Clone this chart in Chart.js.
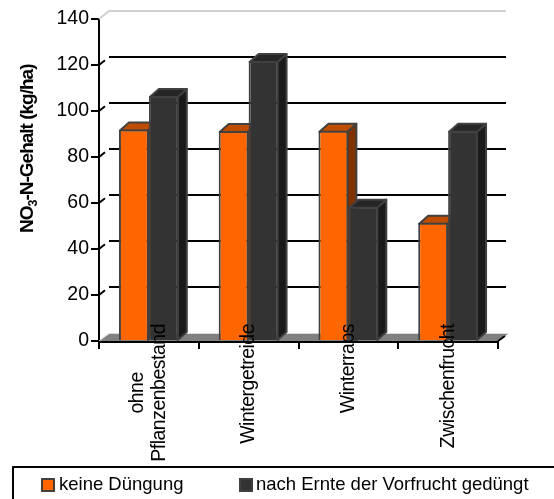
<!DOCTYPE html>
<html>
<head>
<meta charset="utf-8">
<script src="https://cdn.jsdelivr.net/npm/chart.js@4/dist/chart.umd.min.js"></script>
<style>
html, body { margin: 0; padding: 0; background: #fff; }
canvas { display: block; }
</style>
</head>
<body>
<canvas id="nitrateChart" width="554" height="499"></canvas>
<script>
const categories = [["ohne", "Pflanzenbestand"], ["Wintergetreide"], ["Winterraps"], ["Zwischenfrucht"]];
const keineDuengung = [92, 91.3, 91.4, 51.4];
const nachErnte = [106.5, 121.7, 58.4, 91.4];
const seriesNames = ["keine Düngung", "nach Ernte der Vorfrucht gedüngt"];
const yTicks = [0, 20, 40, 60, 80, 100, 120, 140];

const FONT = '"Liberation Sans", Arial, sans-serif';
const WALL_X = 10;
const WALL_Y = 8;
const BAR_X = 9;
const BAR_Y = 8;
const barShades = [
    { top: '#bf4d00', side: '#803300' },
    { top: '#262626', side: '#1a1a1a' }
];

// back wall, floor and the slanted bit of every gridline
function drawWalls(chart) {
    const { ctx, chartArea: a, scales: { y } } = chart;
    ctx.save();
    ctx.fillStyle = '#808080';
    ctx.beginPath();
    ctx.moveTo(a.left, a.bottom);
    ctx.lineTo(a.left + WALL_X, a.bottom - WALL_Y + 1);
    ctx.lineTo(a.right + WALL_X, a.bottom - WALL_Y + 1);
    ctx.lineTo(a.right, a.bottom);
    ctx.closePath();
    ctx.fill();
    ctx.strokeStyle = '#d9d9d9';
    ctx.lineWidth = 1;
    ctx.beginPath();
    ctx.moveTo(a.left, a.bottom);
    ctx.lineTo(a.left + WALL_X, a.bottom - WALL_Y + 0.5);
    ctx.lineTo(a.right + WALL_X, a.bottom - WALL_Y + 0.5);
    ctx.stroke();

    yTicks.forEach(v => {
        if (v === 0) return;
        const py = y.getPixelForValue(v);
        const top = v === yTicks[yTicks.length - 1];
        ctx.strokeStyle = top ? '#d0d0d0' : '#000';
        ctx.lineWidth = 2;
        ctx.beginPath();
        ctx.moveTo(a.left, py);
        if (top) {
            ctx.lineTo(a.left + WALL_X, py - WALL_Y);
        } else {
            ctx.lineTo(a.left + WALL_X * 0.6, py - WALL_Y * 0.6);
            ctx.moveTo(a.left + WALL_X, py - WALL_Y);
        }
        ctx.lineTo(a.right + WALL_X - 2, py - WALL_Y);
        ctx.stroke();
    });

    // short slant at the far end of the x axis
    ctx.strokeStyle = '#000';
    ctx.lineWidth = 2;
    ctx.beginPath();
    ctx.moveTo(a.right, a.bottom);
    ctx.lineTo(a.right + 7, a.bottom - 5);
    ctx.stroke();
    ctx.restore();
}

function drawBarDepth(ctx, bar, shade) {
    const left = bar.x - bar.width / 2 + 1;
    const right = bar.x + bar.width / 2 - 1;
    const top = bar.y + 1;
    ctx.lineWidth = 2;
    ctx.lineJoin = 'round';
    ctx.strokeStyle = '#404040';
    ctx.fillStyle = shade.side;
    ctx.beginPath();
    ctx.moveTo(right, top);
    ctx.lineTo(right + BAR_X, top - BAR_Y);
    ctx.lineTo(right + BAR_X, bar.base - BAR_Y);
    ctx.lineTo(right, bar.base);
    ctx.closePath();
    ctx.fill();
    ctx.stroke();
    ctx.fillStyle = shade.top;
    ctx.beginPath();
    ctx.moveTo(left, top);
    ctx.lineTo(left + BAR_X, top - BAR_Y);
    ctx.lineTo(right + BAR_X, top - BAR_Y);
    ctx.lineTo(right, top);
    ctx.closePath();
    ctx.fill();
    ctx.stroke();
}

function drawYTitle(chart) {
    const { ctx } = chart;
    ctx.save();
    ctx.translate(33, 233);
    ctx.rotate(-Math.PI / 2);
    ctx.fillStyle = '#000';
    ctx.textAlign = 'left';
    ctx.textBaseline = 'alphabetic';
    ctx.letterSpacing = '-1px';
    let x = 0;
    [["NO", 19, 0], ["3", 12.5, 4], ["-N-Gehalt (kg/ha)", 19, 0]].forEach(([txt, size, drop]) => {
        ctx.font = 'bold ' + size + 'px ' + FONT;
        ctx.fillText(txt, x, drop);
        x += ctx.measureText(txt).width;
    });
    ctx.restore();
}

function drawCategoryLabels(chart) {
    const { ctx, scales: { x } } = chart;
    ctx.save();
    ctx.font = '19.5px ' + FONT;
    ctx.letterSpacing = '-0.5px';
    ctx.fillStyle = '#000';
    ctx.textBaseline = 'middle';
    ctx.textAlign = 'center';
    categories.forEach((lines, i) => {
        const px = x.getPixelForValue(i);
        const widest = Math.max(...lines.map(l => ctx.measureText(l).width));
        lines.forEach((line, n) => {
            ctx.save();
            ctx.translate(px + (n - (lines.length - 1) / 2) * 22, 324 + widest / 2);
            ctx.rotate(-Math.PI / 2);
            ctx.fillText(line, 0, 0);
            ctx.restore();
        });
    });
    ctx.restore();
}

function drawLegendBox(chart) {
    const { ctx } = chart;
    ctx.save();
    ctx.strokeStyle = '#000';
    ctx.lineWidth = 2;
    ctx.strokeRect(13, 467, 560, 60);
    ctx.font = '18.5px ' + FONT;
    ctx.textBaseline = 'middle';
    ctx.textAlign = 'left';
    [[41, '#ff6600'], [239, '#333333']].forEach(([px, colour], i) => {
        ctx.fillStyle = colour;
        ctx.fillRect(px, 478, 14, 14);
        ctx.strokeStyle = '#404040';
        ctx.lineWidth = 2;
        ctx.strokeRect(px + 1, 479, 12, 12);
        ctx.fillStyle = '#000';
        ctx.fillText(seriesNames[i], px + 18 - i, 485);
    });
    ctx.restore();
}

const depthPlugin = {
    id: 'depth',
    beforeDatasetsDraw(chart) {
        drawWalls(chart);
        // left series first, the right one has to sit in front of it
        chart.data.datasets.forEach((ds, i) => {
            const meta = chart.getDatasetMeta(i);
            meta.data.forEach(bar => drawBarDepth(chart.ctx, bar, barShades[i]));
            meta.data.forEach(bar => bar.draw(chart.ctx));
        });
        return false;
    },
    afterDraw(chart) {
        drawYTitle(chart);
        drawCategoryLabels(chart);
        drawLegendBox(chart);
    }
};

new Chart(document.getElementById('nitrateChart'), {
    type: 'bar',
    data: {
        labels: categories,
        datasets: [
            { label: seriesNames[0], data: keineDuengung, backgroundColor: '#ff6600', borderColor: '#404040', borderWidth: 2 },
            { label: seriesNames[1], data: nachErnte, backgroundColor: '#333333', borderColor: '#404040', borderWidth: 2 }
        ]
    },
    options: {
        responsive: false,
        animation: false,
        layout: { padding: { top: 19, right: 56, left: 0, bottom: 0 } },
        datasets: { bar: { categoryPercentage: 0.6, barPercentage: 1 } },
        plugins: { legend: { display: false }, tooltip: { enabled: false } },
        scales: {
            x: {
                afterFit(s) { s.height = 158; },
                grid: { drawOnChartArea: false, color: '#000', lineWidth: 2, tickLength: 8 },
                border: { color: '#000', width: 3 },
                ticks: { display: false }
            },
            y: {
                min: 0,
                max: 140,
                afterFit(s) { s.width = 99; },
                afterBuildTicks(s) { s.ticks = yTicks.map(v => ({ value: v })); },
                grid: { drawOnChartArea: false, color: '#000', lineWidth: 2, tickLength: 8 },
                border: { color: '#000', width: 2 },
                ticks: { color: '#000', padding: 2, font: { family: FONT, size: 19.5 } }
            }
        }
    },
    plugins: [depthPlugin]
});
</script>
</body>
</html>
